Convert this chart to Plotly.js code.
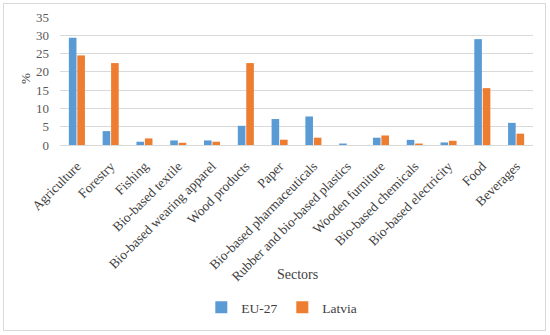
<!DOCTYPE html>
<html>
<head>
<meta charset="utf-8">
<script src="https://cdn.plot.ly/plotly-3.0.1.min.js"></script>
<style>
  html, body { margin: 0; padding: 0; background: #fff; }
  #wrap { position: relative; width: 550px; height: 335px; }
  #chart { width: 550px; height: 335px; }
  #frame { position: absolute; left: 3px; top: 3px; width: 543px; height: 328px;
           border: 1px solid #d9d9d9; pointer-events: none; box-sizing: border-box; }
</style>
</head>
<body>
<div id="wrap">
  <div id="chart"></div>
  <div id="frame"></div>
</div>
<script>
const categories = ["Agriculture", "Forestry", "Fishing", "Bio-based textile",
  "Bio-based wearing apparel", "Wood products", "Paper", "Bio-based pharmaceuticals",
  "Rubber and bio-based plastics", "Wooden furniture", "Bio-based chemicals",
  "Bio-based electricity", "Food", "Beverages"];
const eu27 = [29.3, 3.8, 0.9, 1.25, 1.25, 5.25, 7.1, 7.8, 0.4, 2.0, 1.4, 0.7, 28.95, 6.05];
const latvia = [24.5, 22.4, 1.8, 0.6, 0.9, 22.4, 1.45, 2.0, 0.0, 2.6, 0.4, 1.15, 15.55, 3.1];
const yTicks = [0, 5, 10, 15, 20, 25, 30, 35];

const font = "Liberation Serif, 'DejaVu Serif', serif";

const traces = [
  { type: "bar", name: "EU-27", x: categories, y: eu27,
    marker: { color: "#5B9BD5" } },
  { type: "bar", name: "Latvia", x: categories, y: latvia,
    marker: { color: "#ED7D31" } }
];

const layout = {
  width: 550, height: 335,
  margin: { l: 60, r: 17, t: 17, b: 188 },
  paper_bgcolor: "#fff", plot_bgcolor: "#fff",
  font: { family: font, size: 13, color: "#404040" },
  barmode: "group", bargap: 0.5, bargroupgap: 0.1,
  showlegend: true,
  legend: { orientation: "h", x: 0.47, xanchor: "center", y: (147 - 312) / 130, yanchor: "middle",
            font: { family: font, size: 13.5, color: "#404040" },
            itemwidth: 30, tracegroupgap: 0, entrywidth: 36 },
  xaxis: {
    type: "category", tickangle: -45, showgrid: false, showline: true,
    linecolor: "#d9d9d9", linewidth: 1, ticks: "", ticklabelstandoff: 7,
    tickfont: { family: font, size: 13.5, color: "#404040" },
    automargin: false
  },
  yaxis: {
    range: [0, 35], tickvals: yTicks, showgrid: true, gridcolor: "#d9d9d9",
    zeroline: false, showline: false, ticks: "", ticklabelstandoff: 10,
    tickfont: { family: font, size: 13, color: "#595959" },
    automargin: false
  },
  annotations: [
    { text: "Sectors", xref: "paper", yref: "paper", x: (297 - 60) / 473, y: (147 - 279) / 130,
      xanchor: "center", yanchor: "middle", showarrow: false,
      font: { family: font, size: 14, color: "#404040" } },
    { text: "%", xref: "paper", yref: "paper", x: (25 - 60) / 473, y: (147 - 80) / 130,
      xanchor: "center", yanchor: "middle", showarrow: false, textangle: -90,
      font: { family: font, size: 13, color: "#404040" } }
  ]
};

Plotly.newPlot("chart", traces, layout, { displayModeBar: false, staticPlot: true });
</script>
</body>
</html>
